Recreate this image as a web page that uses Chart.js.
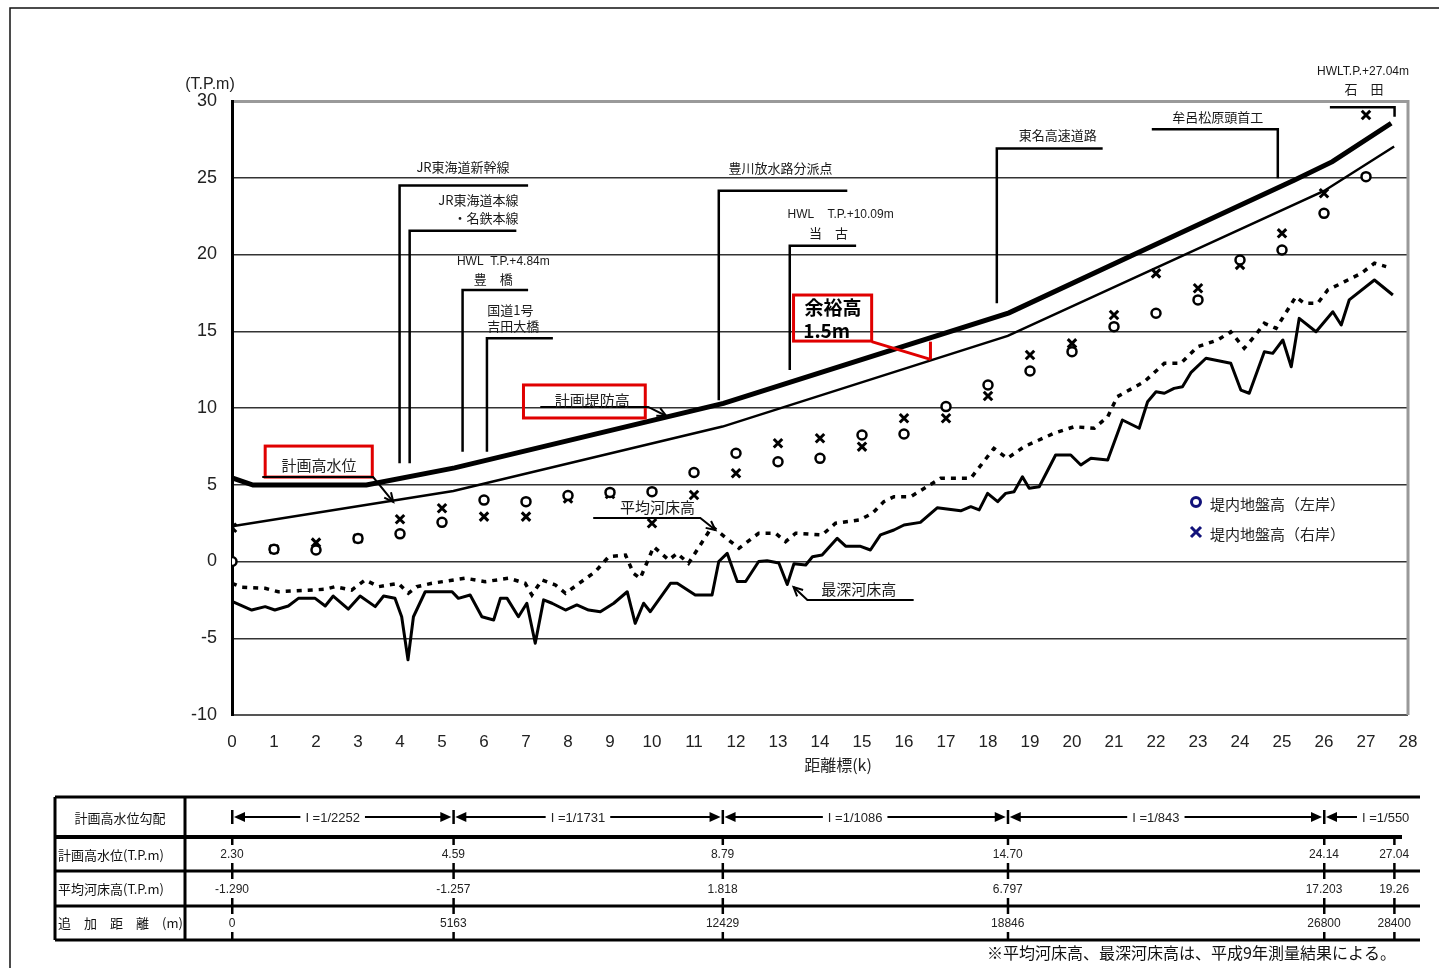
<!DOCTYPE html>
<html>
<head>
<meta charset="utf-8">
<script src="https://cdn.jsdelivr.net/npm/chart.js@4.4.1/dist/chart.umd.min.js"></script>
<style>
  html, body { margin: 0; padding: 0; background: #fff; }
  #wrap { position: relative; width: 1439px; height: 968px; }
</style>
</head>
<body>
<div id="wrap"><canvas id="profileChart" width="1439" height="968"></canvas></div>
<script>
// ---- data (距離標 km / T.P.m) ----
const bankKm = [0,1,2,3,4,5,6,7,8,9,10,11,12,13,14,15,16,17,18,19,20,21,22,23,24,25,26,27];
const leftBank = [0,0.8,0.75,1.5,1.8,2.55,4.0,3.9,4.3,4.5,4.55,5.8,7.05,6.5,6.72,8.24,8.31,10.09,11.5,12.41,13.67,15.3,16.17,17.04,19.64,20.29,22.68,25.07];
const rightBank = [2.2,0.8,1.23,1.5,2.75,3.47,2.92,2.92,4.1,4.4,2.49,4.33,5.75,7.7,8.03,7.48,9.33,9.33,10.78,13.45,14.21,16.06,18.77,17.8,19.32,21.38,23.99,29.09];

// 計画高水位 control points (table columns)
const hwlKm = [0, 5.27, 11.68, 18.47, 26.0, 27.67];
const hwlLevel = [2.30, 4.59, 8.79, 14.70, 24.14, 27.04];
const bedMeanAtCol = ['-1.290', '-1.257', '1.818', '6.797', '17.203', '19.26'];
const addDistance = ['0', '5163', '12429', '18846', '26800', '28400'];
const hwlLabel = ['2.30', '4.59', '8.79', '14.70', '24.14', '27.04'];
const slopeLabel = ['I =1/2252', 'I =1/1731', 'I =1/1086', 'I =1/843', 'I =1/550'];

// 計画堤防高
const leveeKm = [0, 0.5, 3.2, 5.3, 11.7, 18.5, 21.4, 25.3, 26.2, 27.6];
const leveeLevel = [5.45, 4.98, 4.98, 6.1, 10.3, 16.2, 19.9, 24.85, 26.05, 28.55];

// 平均河床高
const meanKm = [0,0.23,0.79,1.1,2.22,2.45,2.85,3.17,3.49,3.96,4.2,4.4,4.76,5.55,6.03,6.59,6.98,7.14,7.38,7.7,7.94,8.65,8.97,9.37,9.56,9.72,10.04,10.4,10.6,10.87,11.43,12.07,12.54,12.94,13.18,13.42,14.05,14.37,14.93,15.25,15.52,15.76,16.16,16.87,17.59,18.14,18.46,18.86,19.57,20.05,20.53,20.85,21.08,21.72,22.2,22.59,22.99,23.47,23.78,24.1,24.34,24.58,24.86,25.33,25.53,25.85,26.09,26.49,26.89,27.2,27.48];
const meanLevel = [-1.42,-1.68,-1.75,-1.97,-1.81,-1.64,-1.86,-1.2,-1.64,-1.42,-2.07,-1.64,-1.42,-1.09,-1.31,-1.09,-1.42,-2.18,-1.2,-1.53,-2.07,-0.66,0.31,0.42,-0.77,-1.1,0.96,0.1,0.53,-0.12,2.27,0.86,1.84,1.84,1.29,1.84,1.73,2.49,2.7,3.14,3.9,4.22,4.22,5.42,5.42,7.37,6.72,7.48,8.35,8.78,8.68,9.43,10.74,11.71,12.91,12.91,13.99,14.43,14.97,13.89,14.65,15.52,15.19,17.25,16.82,16.82,17.69,18.23,18.78,19.43,19.21];

// 最深河床高
const deepKm = [0,0.47,0.79,1.02,1.34,1.58,1.98,2.22,2.41,2.77,3.05,3.41,3.61,3.88,4.04,4.19,4.32,4.6,5.24,5.39,5.67,5.95,6.23,6.39,6.55,6.82,7.02,7.22,7.42,7.62,7.94,8.21,8.49,8.77,9.09,9.41,9.6,9.8,9.96,10.44,10.6,11.03,11.43,11.59,11.79,12.03,12.23,12.54,12.74,13.02,13.22,13.38,13.66,13.82,14.05,14.41,14.61,14.95,15.2,15.44,15.76,16.0,16.39,16.79,17.35,17.59,17.79,17.99,18.23,18.42,18.62,18.82,18.98,19.22,19.61,19.97,20.21,20.45,20.85,21.2,21.6,21.8,22.0,22.2,22.43,22.63,22.83,23.19,23.78,24.02,24.22,24.58,24.78,25.02,25.22,25.41,25.81,26.21,26.41,26.6,27.2,27.64];
const deepLevel = [-2.6,-3.16,-2.94,-3.16,-2.9,-2.4,-2.4,-2.9,-2.25,-3.1,-2.25,-2.94,-2.25,-2.4,-3.6,-6.4,-3.6,-1.97,-1.97,-2.4,-2.18,-3.6,-3.81,-2.4,-2.4,-3.6,-2.72,-5.33,-2.5,-2.72,-3.16,-2.83,-3.16,-3.27,-2.72,-1.97,-4.03,-2.72,-3.27,-1.42,-1.42,-2.18,-2.18,0,0.53,-1.3,-1.3,0,0.05,-0.1,-1.5,-0.15,-0.23,0.31,0.42,1.51,1.0,1.0,0.75,1.73,2.05,2.38,2.55,3.5,3.3,3.57,3.36,4.44,3.9,4.44,4.55,5.52,4.77,4.87,6.94,6.94,6.29,6.72,6.61,9.22,8.68,10.41,11.06,10.96,11.28,11.39,12.3,13.24,12.91,11.17,10.96,13.67,13.56,14.43,12.69,15.84,14.97,16.27,15.41,17.04,18.34,17.36];

const pairs = (xs, ys) => xs.map((x, i) => ({ x: x, y: ys[i] }));

const JP = '"Noto Sans CJK JP", sans-serif';
const NUM = '"Liberation Sans", Arial, sans-serif';

// ---- annotations, in chart units ----
const leaders = [
  [[3.99, 6.4], [3.99, 24.5], [7.05, 24.5]],
  [[4.23, 6.4], [4.23, 21.55], [6.77, 21.55]],
  [[5.49, 7.15], [5.49, 17.69], [7.05, 17.69]],
  [[6.07, 7.15], [6.07, 14.54], [7.64, 14.54]],
  [[11.59, 10.5], [11.59, 24.16], [14.65, 24.16]],
  [[13.28, 12.48], [13.28, 20.57], [14.86, 20.57]],
  [[18.21, 16.82], [18.21, 26.9], [20.73, 26.9]],
  [[21.9, 28.16], [24.9, 28.16], [24.9, 24.96]],
  [[26.14, 29.59], [27.68, 29.59], [27.68, 28.98]]
];
const notes = [
  { t: 'JR東海道新幹線', x: 5.5, y: 25.7 },
  { t: 'JR東海道本線', x: 6.82, y: 23.55, align: 'right' },
  { t: '・名鉄本線', x: 6.82, y: 22.38, align: 'right' },
  { t: 'HWL  T.P.+4.84m', x: 6.46, y: 19.51, num: true },
  { t: '豊　橋', x: 6.22, y: 18.4 },
  { t: '国道1号', x: 6.08, y: 16.38, align: 'left' },
  { t: '吉田大橋', x: 6.08, y: 15.34, align: 'left' },
  { t: '豊川放水路分派点', x: 13.06, y: 25.64 },
  { t: 'HWL    T.P.+10.09m', x: 14.49, y: 22.57, num: true },
  { t: '当　古', x: 14.2, y: 21.4 },
  { t: '東名高速道路', x: 19.66, y: 27.79 },
  { t: '牟呂松原頭首工', x: 23.47, y: 28.96 },
  { t: 'HWLT.P.+27.04m', x: 26.93, y: 31.89, num: true },
  { t: '石　田', x: 26.95, y: 30.78 },
  { t: '平均河床高', x: 10.13, y: 3.55, size: 15 },
  { t: '最深河床高', x: 14.92, y: -1.79, size: 15 }
];
const arrows = [
  { pts: [[0.72, 5.5], [3.36, 5.5], [3.84, 3.88]] },
  { pts: [[7.34, 10.07], [9.91, 10.07], [10.34, 9.48]] },
  { pts: [[8.6, 2.83], [11.15, 2.83], [11.51, 2.05]] },
  { pts: [[16.23, -2.51], [13.7, -2.51], [13.37, -1.66]] }
];
const redBoxes = [
  { x0: 0.79, x1: 3.34, y0: 7.52, y1: 5.5 },
  { x0: 6.94, x1: 9.84, y0: 11.5, y1: 9.35 },
  { x0: 13.37, x1: 15.23, y0: 17.36, y1: 14.36 }
];
const boxTexts = [
  { t: '計画高水位', x: 2.07, y: 6.29, size: 15 },
  { t: '計画堤防高', x: 8.58, y: 10.52, size: 15 },
  { t: '余裕高', x: 13.63, y: 16.51, size: 19, bold: true, align: 'left' },
  { t: '1.5m', x: 13.6, y: 15.02, size: 19, bold: true, align: 'left' }
];
const redLines = [
  [[15.23, 14.32], [16.63, 13.17]],
  [[16.63, 14.32], [16.63, 13.17]]
];

function toPx(chart, p) {
  return [chart.scales.x.getPixelForValue(p[0]), chart.scales.y.getPixelForValue(p[1])];
}

function polyline(ctx, chart, pts) {
  ctx.beginPath();
  pts.forEach((p, i) => {
    const q = toPx(chart, p);
    if (i === 0) ctx.moveTo(q[0], q[1]); else ctx.lineTo(q[0], q[1]);
  });
  ctx.stroke();
}

function arrowHead(ctx, from, to, len) {
  const a = Math.atan2(to[1] - from[1], to[0] - from[0]);
  ctx.beginPath();
  ctx.moveTo(to[0] - len * Math.cos(a - 0.45), to[1] - len * Math.sin(a - 0.45));
  ctx.lineTo(to[0], to[1]);
  ctx.lineTo(to[0] - len * Math.cos(a + 0.45), to[1] - len * Math.sin(a + 0.45));
  ctx.stroke();
}

function filledHead(ctx, x, y, dir) {
  ctx.beginPath();
  ctx.moveTo(x, y);
  ctx.lineTo(x - dir * 11, y - 5);
  ctx.lineTo(x - dir * 11, y + 5);
  ctx.closePath();
  ctx.fill();
}

const decor = {
  id: 'decor',
  beforeDatasetsDraw(chart) {
    const ctx = chart.ctx, a = chart.chartArea;
    ctx.save();
    ctx.strokeStyle = '#999';
    ctx.lineWidth = 3;
    ctx.beginPath();
    ctx.moveTo(a.right, a.top - 1);
    ctx.lineTo(a.right, a.bottom);
    ctx.stroke();
    ctx.restore();
  },
  afterDraw(chart) {
    const ctx = chart.ctx, xs = chart.scales.x;
    ctx.save();

    // outer frame
    ctx.strokeStyle = '#111';
    ctx.lineWidth = 1.5;
    ctx.beginPath();
    ctx.moveTo(10, 968); ctx.lineTo(10, 8); ctx.lineTo(1439, 8);
    ctx.stroke();

    // leaders
    ctx.strokeStyle = '#000';
    ctx.lineWidth = 2.5;
    ctx.lineJoin = 'miter';
    leaders.forEach(l => polyline(ctx, chart, l));

    // texts
    ctx.fillStyle = '#1a1a1a';
    ctx.textBaseline = 'middle';
    notes.forEach(n => {
      const q = toPx(chart, [n.x, n.y]);
      ctx.font = (n.num ? '12px ' + NUM : (n.size || 13) + 'px ' + JP);
      ctx.textAlign = n.align || 'center';
      ctx.fillText(n.t, q[0], q[1]);
    });

    // red boxes
    ctx.strokeStyle = '#e00000';
    ctx.lineWidth = 3;
    redBoxes.forEach(b => {
      const p0 = toPx(chart, [b.x0, b.y0]), p1 = toPx(chart, [b.x1, b.y1]);
      ctx.strokeRect(p0[0], p0[1], p1[0] - p0[0], p1[1] - p0[1]);
    });
    redLines.forEach(l => polyline(ctx, chart, l));

    // black arrows with leader underline
    ctx.strokeStyle = '#000';
    ctx.lineWidth = 2;
    arrows.forEach(ar => {
      polyline(ctx, chart, ar.pts);
      const n = ar.pts.length;
      arrowHead(ctx, toPx(chart, ar.pts[n - 2]), toPx(chart, ar.pts[n - 1]), 10);
    });

    boxTexts.forEach(n => {
      const q = toPx(chart, [n.x, n.y]);
      ctx.font = (n.bold ? 'bold ' : '') + n.size + 'px ' + JP;
      ctx.textAlign = n.align || 'center';
      ctx.fillStyle = n.bold ? '#000' : '#222';
      ctx.fillText(n.t, q[0], q[1]);
    });

    // axis titles
    ctx.fillStyle = '#222';
    ctx.font = '16px ' + NUM;
    ctx.textAlign = 'center';
    ctx.fillText('(T.P.m)', 210, 85);
    ctx.font = '16px ' + JP;
    ctx.fillText('距離標(k)', 838, 765);

    // legend
    ctx.strokeStyle = '#12127a';
    ctx.lineWidth = 3;
    ctx.beginPath();
    ctx.arc(1196, 502, 4.5, 0, Math.PI * 2);
    ctx.stroke();
    ctx.beginPath();
    ctx.moveTo(1191, 527); ctx.lineTo(1201, 537);
    ctx.moveTo(1201, 527); ctx.lineTo(1191, 537);
    ctx.stroke();
    ctx.fillStyle = '#222';
    ctx.font = '15px ' + JP;
    ctx.textAlign = 'left';
    ctx.fillText('堤内地盤高（左岸）', 1210, 504);
    ctx.fillText('堤内地盤高（右岸）', 1210, 534);

    // ---- table ----
    const L = 55, D = 185, R = 1420;
    const rows = [797, 837, 871, 906, 940];
    const cols = hwlKm.map(k => xs.getPixelForValue(k));
    ctx.strokeStyle = '#000';
    ctx.lineWidth = 3;
    rows.forEach((y, i) => {
      ctx.lineWidth = (i === 1) ? 4 : 3;
      ctx.beginPath();
      ctx.moveTo(L, y);
      ctx.lineTo(i === 1 ? 1402 : R, y);
      ctx.stroke();
    });
    ctx.lineWidth = 3;
    ctx.beginPath();
    ctx.moveTo(L, rows[0]); ctx.lineTo(L, rows[4]);
    ctx.moveTo(D, rows[0]); ctx.lineTo(D, rows[4]);
    ctx.stroke();

    ctx.fillStyle = '#111';
    ctx.font = '13px ' + JP;
    ctx.textAlign = 'center';
    ctx.fillText('計画高水位勾配', 120, 818);
    ctx.textAlign = 'left';
    ctx.fillText('計画高水位(T.P.m)', 58, 855);
    ctx.fillText('平均河床高(T.P.m)', 58, 889);
    ctx.fillText('追　加　距　離　(m)', 58, 923);

    // slope row
    const sy = 817;
    ctx.lineWidth = 2;
    ctx.font = '13px ' + NUM;
    ctx.textAlign = 'center';
    for (let i = 0; i < slopeLabel.length; i++) {
      const xa = cols[i];
      const last = i === slopeLabel.length - 1;
      const xb = last ? R : cols[i + 1];
      ctx.fillStyle = '#000';
      ctx.fillRect(xa - 1, sy - 7, 2.5, 14);
      filledHead(ctx, xa + 2, sy, -1);
      const tw = ctx.measureText(slopeLabel[i]).width;
      if (last) {
        ctx.beginPath();
        ctx.moveTo(xa + 10, sy); ctx.lineTo(xa + 33, sy);
        ctx.stroke();
        ctx.textAlign = 'left';
        ctx.fillStyle = '#222';
        ctx.fillText(slopeLabel[i], xa + 38, sy + 1);
      } else {
        const mid = (xa + xb) / 2 - 10;
        filledHead(ctx, xb - 2, sy, 1);
        ctx.beginPath();
        ctx.moveTo(xa + 10, sy); ctx.lineTo(mid - tw / 2 - 5, sy);
        ctx.moveTo(mid + tw / 2 + 5, sy); ctx.lineTo(xb - 10, sy);
        ctx.stroke();
        ctx.fillStyle = '#222';
        ctx.fillText(slopeLabel[i], mid, sy + 1);
      }
    }

    // value rows
    const rowVals = [hwlLabel, bedMeanAtCol, addDistance];
    ctx.font = '12px ' + NUM;
    ctx.textAlign = 'center';
    for (let r = 0; r < 3; r++) {
      const top = rows[r + 1], bot = rows[r + 2];
      cols.forEach((x, i) => {
        ctx.fillStyle = '#000';
        ctx.fillRect(x - 1, top, 2.5, 8);
        ctx.fillRect(x - 1, bot - 8, 2.5, 8);
        ctx.fillStyle = '#222';
        ctx.fillText(rowVals[r][i], x, (top + bot) / 2 + 1);
      });
    }

    ctx.font = '16px ' + JP;
    ctx.textAlign = 'right';
    ctx.fillStyle = '#111';
    ctx.fillText('※平均河床高、最深河床高は、平成9年測量結果による。', 1396, 953);
    ctx.restore();
  }
};

const chartCtx = document.getElementById('profileChart');
new Chart(chartCtx, {
  type: 'line',
  data: {
    datasets: [
      {
        label: '堤内地盤高（左岸）', type: 'scatter', data: pairs(bankKm, leftBank),
        pointStyle: 'circle', pointRadius: 4.5, pointBorderWidth: 2.5,
        borderColor: '#000', backgroundColor: '#fff', showLine: false
      },
      {
        label: '堤内地盤高（右岸）', type: 'scatter', data: pairs(bankKm, rightBank),
        pointStyle: 'crossRot', pointRadius: 6, pointBorderWidth: 3,
        borderColor: '#000', backgroundColor: '#000', showLine: false
      },
      {
        label: '計画堤防高', data: pairs(leveeKm, leveeLevel),
        borderColor: '#000', borderWidth: 5, pointRadius: 0, tension: 0
      },
      {
        label: '計画高水位', data: pairs(hwlKm, hwlLevel),
        borderColor: '#000', borderWidth: 2.5, pointRadius: 0, tension: 0
      },
      {
        label: '平均河床高', data: pairs(meanKm, meanLevel),
        borderColor: '#000', borderWidth: 3.5, borderDash: [5, 6], pointRadius: 0, tension: 0
      },
      {
        label: '最深河床高', data: pairs(deepKm, deepLevel),
        borderColor: '#000', borderWidth: 3, pointRadius: 0, tension: 0, borderJoinStyle: 'round'
      }
    ]
  },
  options: {
    responsive: false,
    animation: false,
    layout: { padding: { left: 0, top: 101, right: 31, bottom: 0 } },
    plugins: { legend: { display: false }, tooltip: { enabled: false } },
    scales: {
      x: {
        type: 'linear', min: 0, max: 28,
        ticks: { stepSize: 1, autoSkip: false, maxRotation: 0, padding: 17, color: '#222', font: { family: NUM, size: 17 } },
        grid: { display: false, drawTicks: false },
        border: { display: false },
        afterFit(scale) { scale.height = 253; }
      },
      y: {
        min: -10, max: 30,
        ticks: { stepSize: 5, padding: 15, color: '#222', font: { family: NUM, size: 18 } },
        grid: {
          drawTicks: false,
          color: c => (c.tick && c.tick.value === 30) ? '#9a9a9a' : (c.tick && c.tick.value === -10 ? '#555' : '#333'),
          lineWidth: c => (c.tick && c.tick.value === 30) ? 3 : (c.tick && c.tick.value === -10 ? 2 : 1.5)
        },
        border: { display: true, color: '#000', width: 3 },
        afterFit(scale) { scale.width = 232; }
      }
    }
  },
  plugins: [decor]
});
</script>
</body>
</html>
